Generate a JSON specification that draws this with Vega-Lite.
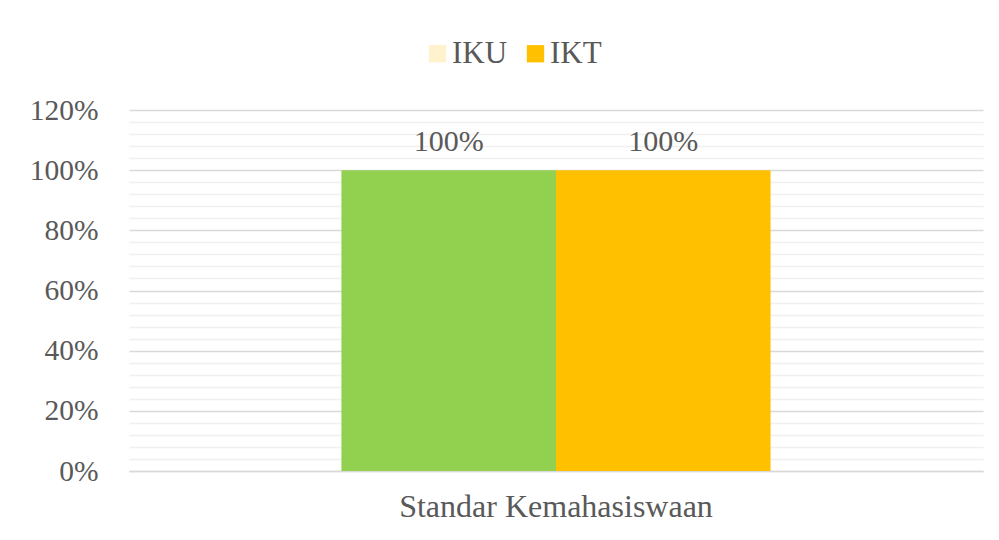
{
  "$schema": "https://vega.github.io/schema/vega-lite/v6.json",
  "width": 854,
  "height": 361,
  "autosize": "none",
  "padding": {"left": 129, "top": 110, "right": 16, "bottom": 69},
  "background": "white",
  "config": {
    "view": {"stroke": null},
    "font": "Liberation Serif"
  },
  "data": {
    "values": [
      {"kategori": "Standar Kemahasiswaan", "seri": "IKU", "nilai": 1.0},
      {"kategori": "Standar Kemahasiswaan", "seri": "IKT", "nilai": 1.0}
    ]
  },
  "encoding": {
    "x": {
      "field": "kategori",
      "type": "nominal",
      "title": null,
      "scale": {"paddingInner": 0, "paddingOuter": 0.495},
      "axis": {
        "labelAngle": 0,
        "labelLimit": 600,
        "labelFont": "Liberation Serif",
        "labelFontSize": 32,
        "labelColor": "#595959",
        "labelPadding": 20,
        "ticks": false,
        "domain": true,
        "domainColor": "#d9d9d9",
        "domainWidth": 1.5
      }
    },
    "xOffset": {
      "field": "seri",
      "type": "nominal",
      "sort": ["IKU", "IKT"],
      "scale": {"paddingInner": 0, "paddingOuter": 0}
    },
    "y": {
      "field": "nilai",
      "type": "quantitative",
      "title": null,
      "scale": {"domain": [0, 1.2], "nice": false},
      "axis": {
        "values": [0, 0.04, 0.08, 0.12, 0.16, 0.2, 0.24, 0.28, 0.32, 0.36, 0.4, 0.44, 0.48, 0.52, 0.56, 0.6, 0.64, 0.68, 0.72, 0.76, 0.8, 0.84, 0.88, 0.92, 0.96, 1.0, 1.04, 1.08, 1.12, 1.16, 1.2],
        "labelExpr": "round(datum.value * 100) % 20 == 0 ? format(datum.value, '.0%') : ''",
        "labelFont": "Liberation Serif",
        "labelFontSize": 29.5,
        "labelColor": "#595959",
        "labelPadding": 31,
        "ticks": false,
        "domain": false,
        "grid": true,
        "gridColor": {"condition": {"test": "round(datum.value * 100) % 20 == 0", "value": "#d9d9d9"}, "value": "#f0f0f0"},
        "gridWidth": 1.5
      }
    }
  },
  "layer": [
    {
      "mark": {"type": "bar"},
      "encoding": {
        "fill": {
          "field": "seri",
          "type": "nominal",
          "scale": {"domain": ["IKT", "IKU"], "range": ["#FFC000", "#92D050"]},
          "legend": null
        }
      }
    },
    {
      "mark": {"type": "point", "shape": "square", "filled": true, "size": 0},
      "encoding": {
        "color": {
          "field": "seri",
          "type": "nominal",
          "sort": ["IKU", "IKT"],
          "scale": {"domain": ["IKU", "IKT"], "range": ["#FFF2CC", "#FFC000"]},
          "legend": {
            "title": null,
            "orient": "none",
            "direction": "horizontal",
            "legendX": 293,
            "legendY": -72,
            "symbolType": "square",
            "symbolSize": 300,
            "symbolStrokeWidth": 0,
            "symbolOpacity": 1,
            "labelFont": "Liberation Serif",
            "labelFontSize": 31,
            "labelColor": "#595959",
            "labelOffset": -1,
            "columnPadding": 12
          }
        }
      }
    },
    {
      "mark": {
        "type": "text",
        "baseline": "bottom",
        "dy": -13,
        "font": "Liberation Serif",
        "fontSize": 30,
        "color": "#595959"
      },
      "encoding": {
        "text": {"field": "nilai", "type": "quantitative", "format": ".0%"}
      }
    }
  ]
}
